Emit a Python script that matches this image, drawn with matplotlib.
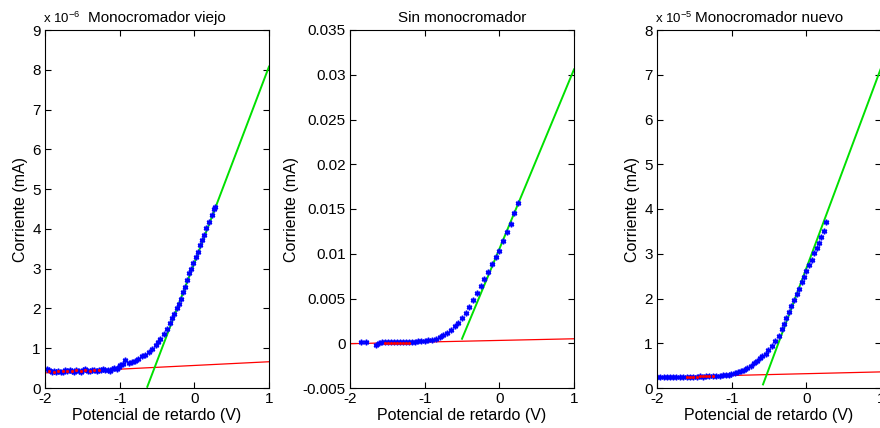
import numpy as np
import matplotlib
matplotlib.use("Agg")
import matplotlib.pyplot as plt
from matplotlib.ticker import FuncFormatter

plt.rcParams['font.family'] = ['Liberation Sans', 'DejaVu Sans']
plt.rcParams['axes.unicode_minus'] = False
plt.rcParams['mathtext.fontset'] = 'custom'
plt.rcParams['mathtext.rm'] = 'Liberation Sans'

# --- Monocromador viejo (corriente en unidades de 1e-6 mA) ---
v_viejo = [-1.97, -1.94, -1.91, -1.88, -1.85, -1.82, -1.79, -1.76, -1.73, -1.70,
           -1.67, -1.64, -1.61, -1.58, -1.55, -1.52, -1.49, -1.46, -1.43, -1.40,
           -1.37, -1.34, -1.31, -1.28, -1.25, -1.22, -1.19, -1.16, -1.13, -1.10,
           -1.07, -1.04, -1.01, -0.99, -0.95, -0.93, -0.88, -0.84, -0.79, -0.75,
           -0.70, -0.66, -0.61, -0.57, -0.52, -0.48, -0.46, -0.41, -0.37, -0.33,
           -0.30, -0.27, -0.23, -0.20, -0.18, -0.15, -0.12, -0.10, -0.07, -0.04,
           -0.02, 0.02, 0.05, 0.07, 0.10, 0.13, 0.16, 0.19, 0.23, 0.26, 0.28]
i_viejo = [0.49, 0.44, 0.40, 0.42, 0.39, 0.43, 0.41, 0.40, 0.44, 0.42,
           0.45, 0.43, 0.41, 0.46, 0.42, 0.40, 0.44, 0.47, 0.43, 0.42,
           0.45, 0.44, 0.43, 0.46, 0.45, 0.47, 0.44, 0.46, 0.43, 0.49,
           0.50, 0.48, 0.52, 0.57, 0.61, 0.71, 0.63, 0.65, 0.68, 0.74,
           0.80, 0.82, 0.91, 0.99, 1.07, 1.16, 1.24, 1.37, 1.49, 1.64,
           1.75, 1.87, 2.00, 2.12, 2.25, 2.42, 2.54, 2.71, 2.88, 3.00,
           3.13, 3.30, 3.42, 3.59, 3.72, 3.84, 4.01, 4.18, 4.35, 4.51, 4.55]
red_v_viejo = [-1.94, -1.88, -1.82, -1.76, -1.70, -1.64, -1.58, -1.52, -1.46, -1.40, -1.34, -1.28]
red_i_viejo = [0.42, 0.41, 0.42, 0.42, 0.43, 0.43, 0.44, 0.42, 0.45, 0.43, 0.44, 0.45]
fondo_viejo = ([-2, 1], [0.38, 0.66])
recta_viejo = ([-0.63, 1], [0.03, 8.08])

# --- Sin monocromador (mA) ---
v_sin = [-1.85, -1.78, -1.65, -1.61, -1.57, -1.53, -1.49, -1.45, -1.41, -1.37,
         -1.33, -1.29, -1.25, -1.21, -1.17, -1.13, -1.09, -1.05, -1.00, -0.95,
         -0.90, -0.85, -0.80, -0.75, -0.70, -0.65, -0.60, -0.55, -0.50, -0.45,
         -0.40, -0.35, -0.30, -0.25, -0.20, -0.15, -0.10, -0.05, 0.00, 0.05,
         0.10, 0.15, 0.20, 0.25]
i_sin = [0.0001, 0.0001, -0.0002, 0.0000, 0.0001, 0.0001, 0.0001, 0.0001, 0.0001, 0.0001,
         0.0001, 0.0001, 0.0001, 0.0001, 0.0001, 0.0001, 0.0002, 0.0002, 0.0003, 0.0004,
         0.0004, 0.0005, 0.0007, 0.0009, 0.0012, 0.0015, 0.0019, 0.0023, 0.0028, 0.0034,
         0.0041, 0.0048, 0.0056, 0.0064, 0.0072, 0.0080, 0.0088, 0.0096, 0.0103, 0.0114,
         0.0124, 0.0133, 0.0145, 0.0157]
red_v_sin = [-1.53, -1.49, -1.45, -1.41, -1.37, -1.33, -1.29, -1.25, -1.21]
red_i_sin = [0.0000, 0.0000, 0.0000, 0.0000, 0.0000, 0.0000, 0.0000, 0.0000, 0.0000]
fondo_sin = ([-2, 1], [-0.00005, 0.0005])
recta_sin = ([-0.5, 1], [0.0005, 0.0306])

# --- Monocromador nuevo (corriente en unidades de 1e-5 mA) ---
v_nuevo = [-2.00, -1.96, -1.91, -1.87, -1.82, -1.78, -1.74, -1.69, -1.65, -1.60,
           -1.56, -1.52, -1.47, -1.43, -1.38, -1.34, -1.30, -1.25, -1.21, -1.16,
           -1.12, -1.08, -1.04, -1.01, -0.96, -0.92, -0.88, -0.83, -0.79, -0.74,
           -0.70, -0.66, -0.62, -0.59, -0.54, -0.51, -0.46, -0.42, -0.37, -0.33,
           -0.30, -0.27, -0.23, -0.20, -0.16, -0.13, -0.10, -0.06, -0.03, 0.00,
           0.04, 0.07, 0.10, 0.14, 0.17, 0.19, 0.23, 0.26]
i_nuevo = [0.24, 0.24, 0.24, 0.24, 0.24, 0.24, 0.24, 0.25, 0.24, 0.25,
           0.25, 0.25, 0.25, 0.26, 0.25, 0.26, 0.26, 0.26, 0.27, 0.27,
           0.28, 0.29, 0.30, 0.32, 0.34, 0.36, 0.38, 0.41, 0.45, 0.49,
           0.55, 0.60, 0.66, 0.72, 0.77, 0.84, 0.94, 1.05, 1.16, 1.31,
           1.44, 1.57, 1.70, 1.83, 1.96, 2.09, 2.22, 2.37, 2.48, 2.62,
           2.74, 2.87, 3.01, 3.12, 3.24, 3.38, 3.51, 3.70]
red_v_nuevo = [-1.60, -1.56, -1.52, -1.47, -1.43, -1.38, -1.34, -1.30, -1.25]
red_i_nuevo = [0.25, 0.25, 0.25, 0.25, 0.26, 0.26, 0.26, 0.26, 0.26]
fondo_nuevo = ([-2, 1], [0.24, 0.36])
recta_nuevo = ([-0.58, 1], [0.08, 7.15])

paneles = [
    dict(v=v_viejo, i=i_viejo, rv=red_v_viejo, ri=red_i_viejo, fondo=fondo_viejo,
         recta=recta_viejo, ylim=(0, 9), yticks=np.arange(0, 10, 1),
         titulo="Monocromador viejo", escala="-6", left=45),
    dict(v=v_sin, i=i_sin, rv=red_v_sin, ri=red_i_sin, fondo=fondo_sin,
         recta=recta_sin, ylim=(-0.005, 0.035), yticks=np.arange(-0.005, 0.0351, 0.005),
         titulo="Sin monocromador", escala=None, left=350),
    dict(v=v_nuevo, i=i_nuevo, rv=red_v_nuevo, ri=red_i_nuevo, fondo=fondo_nuevo,
         recta=recta_nuevo, ylim=(0, 8), yticks=np.arange(0, 9, 1),
         titulo="Monocromador nuevo", escala="-5", left=657),
]

W, H = 880, 428
fig = plt.figure(figsize=(W / 100, H / 100), dpi=100)
fig.patch.set_facecolor('white')

asterisco = (6, 2, 0)
for p in paneles:
    ax = fig.add_axes([p["left"] / W, 40 / H, 224 / W, 358 / H])
    ax.plot(p["fondo"][0], p["fondo"][1], color='red', lw=0.9)
    ax.plot(p["recta"][0], p["recta"][1], color='#00e000', lw=1.4)
    ax.plot(p["v"], p["i"], ls='none', marker=asterisco, ms=4, mew=1.1, color='blue')
    ax.plot(p["rv"], p["ri"], ls='none', marker='.', ms=2.5, color='red')
    ax.set_xlim(-2, 1)
    ax.set_ylim(*p["ylim"])
    ax.set_xticks([-2, -1, 0, 1])
    ax.set_yticks(p["yticks"])
    ax.yaxis.set_major_formatter(FuncFormatter(lambda y, pos: "%g" % round(y, 4)))
    ax.tick_params(direction='in', top=True, right=True, length=4, width=0.8,
                   labelsize=11, pad=3)
    for s in ax.spines.values():
        s.set_linewidth(0.8)
    ax.set_xlabel("Potencial de retardo (V)", fontsize=11.5, labelpad=1)
    ax.set_ylabel("Corriente (mA)", fontsize=11.5, labelpad=3)
    ax.set_title(p["titulo"], fontsize=11, pad=6)
    if p["escala"]:
        ax.text(-0.01, 1.012, r"x 10$^{%s}$" % p["escala"], transform=ax.transAxes,
                fontsize=9.5, ha='left', va='bottom')

fig.savefig("out.png", dpi=100)
